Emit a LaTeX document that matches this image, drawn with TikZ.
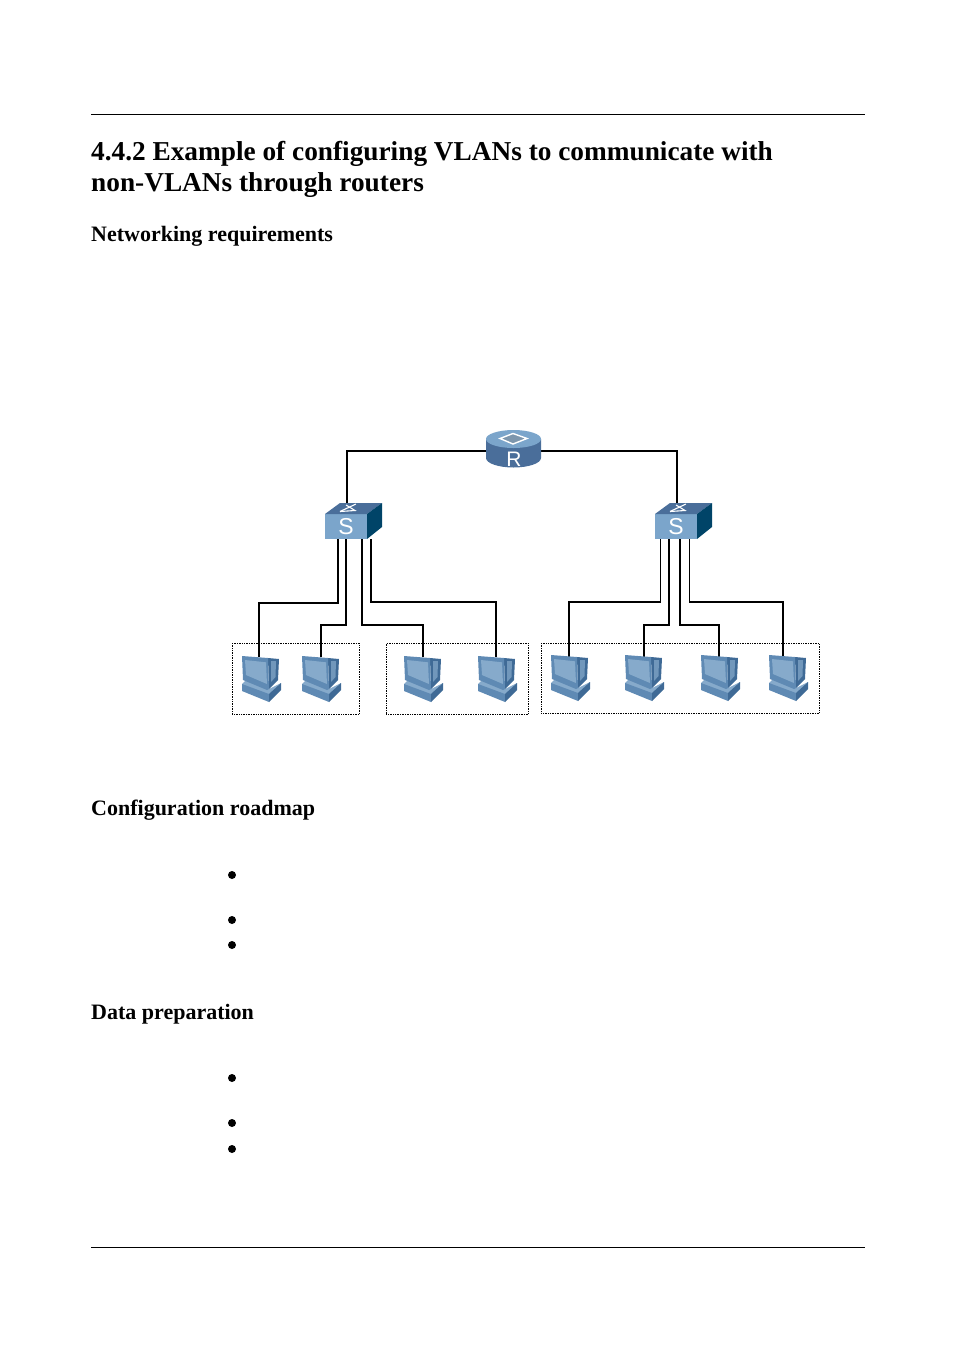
\documentclass[tikz,border=0pt]{standalone}
\usepackage{fontspec}
\setmainfont{Liberation Serif}
\setsansfont{Liberation Sans}
\usetikzlibrary{positioning}
\definecolor{swfront}{HTML}{7BA5CB}
\definecolor{swtop}{HTML}{4A6E9A}
\definecolor{swside}{HTML}{004468}
\definecolor{pcmid}{HTML}{5F8AB4}
\definecolor{pcdark}{HTML}{3F6A96}
\definecolor{pclight}{HTML}{86AACB}
\tikzset{
	link/.style={line width=1.8pt},
	rule/.style={line width=0.8pt},
	group/.style={draw,densely dotted,line width=0.7pt,inner sep=0pt},
	dot/.style={circle,fill=black,inner sep=0pt,minimum size=8pt},
	head/.style={anchor=base west,inner sep=0pt,font=\fontsize{27.3}{31}\selectfont\bfseries},
	subhead/.style={anchor=base west,inner sep=0pt,font=\fontsize{22}{25}\selectfont\bfseries},
	pcbox/.style={inner sep=0pt,outer sep=0pt,minimum width=40pt,minimum height=46pt},
	swbox/.style={inner sep=0pt,outer sep=0pt,minimum width=42pt,minimum height=25pt},
	sw/.pic={
		\fill[swfront] (0,0) rectangle (42,25);
		\fill[swtop] (0,0) -- (15,-11) -- (57,-11) -- (42,0) -- cycle;
		\fill[swside] (42,0) -- (57,-11) -- (57,13) -- (42,25) -- cycle;
		\draw[white,line width=1.1pt] (15,-2.5) -- (30,-3.5) -- (21,-9);
		\draw[white,line width=1.1pt] (15,-2.5) -- (31,-10);
		\node[white,font=\sffamily\fontsize{23}{23}\selectfont] at (21,13) {S};
	},
	pc/.pic={
		\fill[pclight] (0,28) -- (4,24) -- (27,33) -- (39,27) -- (27,39) -- (0,29) -- cycle;
		\fill[pcmid] (0,28) -- (27,38) -- (27,46) -- (0,35) -- cycle;
		\fill[pcdark] (27,38) -- (39,27) -- (39,34) -- (27,46) -- cycle;
		\fill[pcdark] (26,2) -- (37,3) -- (36,24) -- (27,33) -- cycle;
		\fill[pclight!70!pcdark] (29,5) -- (34,5) -- (33.5,21) -- (29,26) -- cycle;
		\fill[pcmid] (0,0) -- (26,2) -- (27,33) -- (25,34) -- (1,24) -- cycle;
		\fill[pclight] (3,4) -- (24,6.3) -- (25,28) -- (4,19) -- cycle;
	},
}
\begin{document}
\begin{tikzpicture}[x=1pt,y=-1pt]
	\useasboundingbox (0,0) rectangle (954,1350);
	\coordinate (RA) at (91,114);
	\coordinate (RB) at (865,114);
	\coordinate (RC) at (91,1247);
	\coordinate (RD) at (865,1247);
	\draw[rule] (RA) -- (RB);
	\draw[rule] (RC) -- (RD);

	\node[head] (title1) at (91,160.5) {4.4.2 Example of configuring VLANs to communicate with};
	\node[head] (title2) at (91,191.5) {non-VLANs through routers};
	\node[subhead] (req) at (91,241) {Networking requirements};
	\node[subhead] (road) at (91,815) {Configuration roadmap};
	\node[subhead] (data) at (91,1019) {Data preparation};

	\foreach \n/\y in {a/875,b/920,c/945,d/1078,e/1123,f/1149}
		\node[dot] (bullet\n) at (232,\y) {};

	\coordinate (RL) at (487,451);
	\coordinate (RR) at (541,451);
	\node[swbox] (sw1) at (346,526.5) {};
	\node[swbox] (sw2) at (676,526.5) {};
	\coordinate (sw1t) at (347,504);
	\coordinate (sw2t) at (677,504);

	\foreach \n/\x/\y in {1/242/656,2/302/656,3/404/656,4/478/656,5/551/655,6/625/655,7/701/655,8/769/655}
		\node[pcbox,anchor=north west] (pc\n) at (\x,\y) {};
	\coordinate (pc1t) at (259,657);
	\coordinate (pc2t) at (321,657);
	\coordinate (pc3t) at (423,657);
	\coordinate (pc4t) at (496,657);
	\coordinate (pc5t) at (569,657);
	\coordinate (pc6t) at (644,657);
	\coordinate (pc7t) at (719,657);
	\coordinate (pc8t) at (783,657);

	% links
	\draw[link] (RL) -| (sw1t);
	\draw[link] (RR) -| (sw2t);
	\draw[link] ([xshift=13pt]sw1.south west) -- ++(0,64) -| (pc1t);
	\draw[link] ([xshift=21pt]sw1.south west) -- ++(0,86) -| (pc2t);
	\draw[link] ([xshift=37pt]sw1.south west) -- ++(0,86) -| (pc3t);
	\draw[link] ([xshift=46pt]sw1.south west) -- ++(0,63) -| (pc4t);
	\draw[link] ([xshift=5.5pt]sw2.south west) -- ++(0,63) -| (pc5t);
	\draw[link] ([xshift=14pt]sw2.south west) -- ++(0,86) -| (pc6t);
	\draw[link] ([xshift=25pt]sw2.south west) -- ++(0,86) -| (pc7t);
	\draw[link] ([xshift=34.5pt]sw2.south west) -- ++(0,63) -| (pc8t);

	% router
	\coordinate (Rc) at (513.5,439);
	\fill[swtop] (486,439) -- (486,458) arc[start angle=180,end angle=0,x radius=27.5,y radius=9.5] -- (541,439) -- cycle;
	\fill[swfront] (Rc) ellipse[x radius=27.5,y radius=9];
	\draw[white,line width=1.4pt,fill=swfront!60!gray] (500,438.5) -- (513,433.5) -- (527,438.5) -- (513,444) -- cycle;
	\node[white,font=\sffamily\fontsize{21}{21}\selectfont,inner sep=0pt] (Rtext) at (514,459.5) {R};

	% switches
	\pic at (sw1.north west) {sw};
	\pic at (sw2.north west) {sw};

	% computers
	\foreach \n in {1,...,8}
		\pic at (pc\n.north west) {pc};

	% vlan groups
	\node[group,anchor=north west,minimum width=127pt,minimum height=71pt] (g1) at (232,643) {};
	\node[group,anchor=north west,minimum width=142pt,minimum height=71pt] (g2) at (386,643) {};
	\node[group,anchor=north west,minimum width=278pt,minimum height=70pt] (g3) at (541,643) {};
\end{tikzpicture}
\end{document}
